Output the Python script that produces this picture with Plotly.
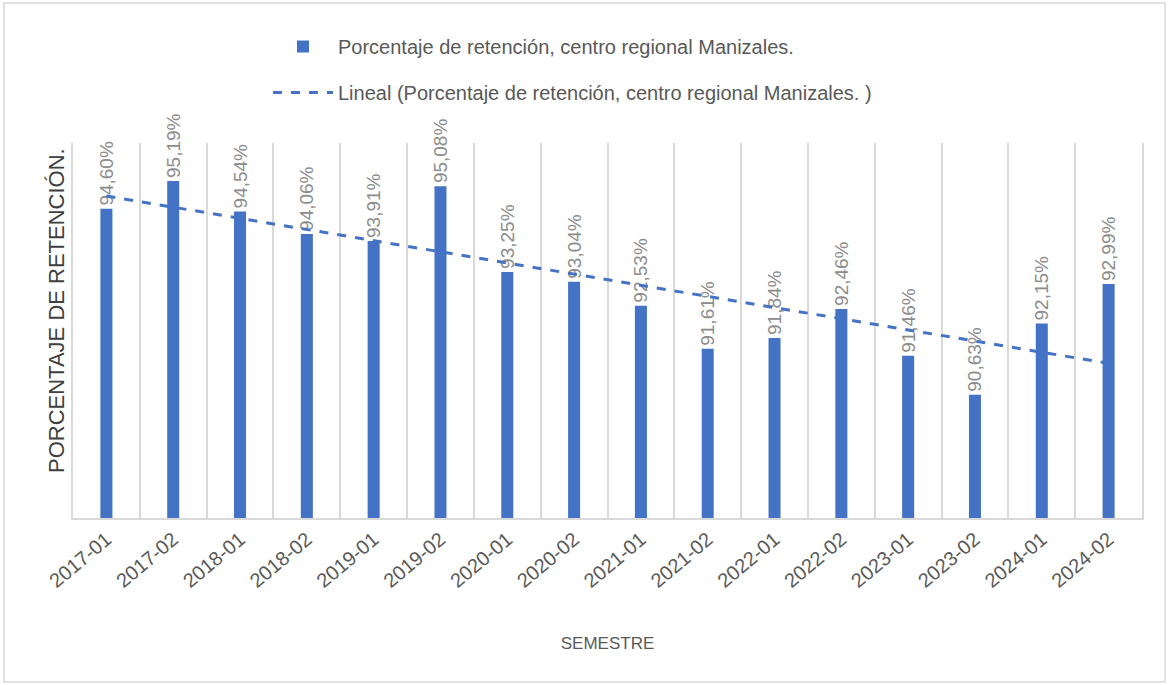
import numpy as np
import plotly.graph_objects as go

semestres = ["2017-01", "2017-02", "2018-01", "2018-02", "2019-01", "2019-02",
             "2020-01", "2020-02", "2021-01", "2021-02", "2022-01", "2022-02",
             "2023-01", "2023-02", "2024-01", "2024-02"]
retencion = [94.60, 95.19, 94.54, 94.06, 93.91, 95.08, 93.25, 93.04,
             92.53, 91.61, 91.84, 92.46, 91.46, 90.63, 92.15, 92.99]

serie_nombre = "Porcentaje de retención, centro regional Manizales."
trend_nombre = "Lineal (Porcentaje de retención, centro regional Manizales. )"
titulo_y = "PORCENTAJE DE RETENCIÓN."
titulo_x = "SEMESTRE"

# Linear trendline (least squares), as Excel computes it
idx = np.arange(1, len(retencion) + 1)
m, b = np.polyfit(idx, retencion, 1)
tendencia = m * idx + b

W, H = 1169, 685
L, R, T, B = 73, 27, 143, 167
pw, ph = W - L - R, H - T - B

def px_x(p):
    return (p - L) / pw

def px_y(p):
    return (H - B - p) / ph

blue = "#4472C4"
fig = go.Figure()
fig.add_trace(go.Bar(
    x=semestres, y=retencion, name=serie_nombre,
    marker=dict(color=blue, line=dict(width=0)), width=0.18,
    texttemplate="%{y:.2f}%", textposition="outside", textangle=-90,
    textfont=dict(family="Liberation Sans", size=19, color="#8c8c8c"),
    constraintext="none", cliponaxis=False, legendgroup="a",
))
fig.add_trace(go.Scatter(
    x=semestres, y=tendencia, name=trend_nombre, mode="lines",
    line=dict(color=blue, width=3, dash="dash"), legendgroup="b",
))

fig.update_layout(
    width=W, height=H,
    margin=dict(l=L, r=R, t=T, b=B, autoexpand=False),
    paper_bgcolor="white", plot_bgcolor="white",
    separators=",.",
    showlegend=True,
    legend=dict(x=px_x(268), y=px_y(27), xanchor="left", yanchor="top",
                font=dict(family="Liberation Sans", size=20, color="#595959"),
                tracegroupgap=17, itemwidth=60, traceorder="grouped",
                bgcolor="rgba(0,0,0,0)"),
    xaxis=dict(
        type="category", tickson="boundaries", showgrid=True,
        gridcolor="#d9d9d9", gridwidth=2, showline=True, linecolor="#d9d9d9",
        linewidth=2, ticks="", tickangle=-40, automargin=False,
        tickfont=dict(family="Liberation Sans", size=20, color="#595959"),
        title=dict(text=titulo_x, standoff=46,
                   font=dict(family="Liberation Sans", size=17, color="#595959")),
        range=[-0.5, len(semestres) - 0.5],
    ),
    yaxis=dict(
        range=[88, 96], showgrid=False, showticklabels=False, ticks="",
        zeroline=False, showline=True, mirror=True, linecolor="#d9d9d9",
        linewidth=2, automargin=False,
    ),
    annotations=[dict(text=titulo_y, xref="paper", yref="paper",
                      x=px_x(56), y=px_y(311), textangle=-90, showarrow=False,
                      xanchor="center", yanchor="middle",
                      font=dict(family="Liberation Sans", size=22, color="#404040"))],
    shapes=[dict(type="rect", xref="paper", yref="paper",
                 x0=px_x(4), x1=px_x(1165), y0=px_y(682), y1=px_y(3),
                 line=dict(color="#d9d9d9", width=1.5), fillcolor="rgba(0,0,0,0)",
                 layer="below")],
)

fig.write_html("out.html", config={"displayModeBar": False},
               post_script="document.body.style.margin='0';document.body.style.overflow='hidden';")
